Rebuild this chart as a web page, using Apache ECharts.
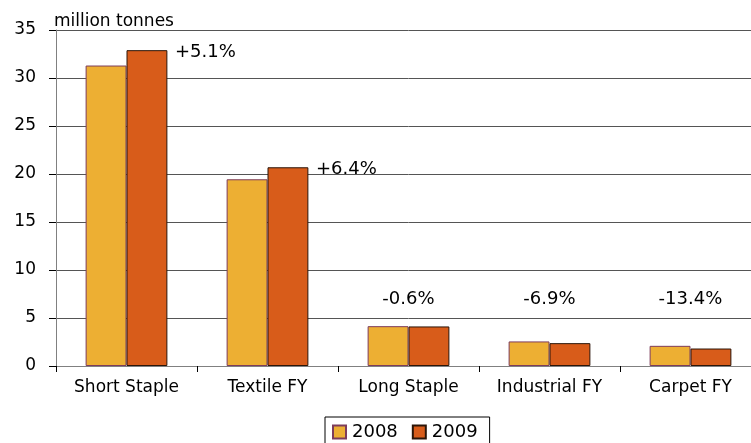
<!DOCTYPE html>
<html><head><meta charset="utf-8">
<script src="https://cdn.jsdelivr.net/npm/echarts@6/dist/echarts.min.js"></script>
<style>html,body{margin:0;padding:0;background:#fff;overflow:hidden}#c{width:761px;height:443px}</style>
</head><body><div id="c"></div>
<script>
const categories = ['Short Staple', 'Textile FY', 'Long Staple', 'Industrial FY', 'Carpet FY'];
const values2008 = [31.3, 19.45, 4.15, 2.56, 2.1];
const values2009 = [32.9, 20.7, 4.12, 2.38, 1.82];
const changeLabels = ['+5.1%', '+6.4%', '-0.6%', '-6.9%', '-13.4%'];
const seriesNames = ['2008', '2009'];
const yTicks = [0, 5, 10, 15, 20, 25, 30, 35];

const FONT = 'DejaVu Sans';
const chart = echarts.init(document.getElementById('c'), null, {renderer: 'canvas'});

// annotations: large categories get label to the right of 2009 bar top; small ones centred above the pair
const marks = categories.map((c, i) => {
  const big = values2009[i] > 10;
  return {
    coord: [c, big ? values2009[i] : 6.95],
    value: changeLabels[i],
    label: big
      ? {position: 'inside', align: 'left', verticalAlign: 'middle', offset: [28, 2]}
      : {position: 'inside', align: 'center', verticalAlign: 'middle', offset: [-20.5, 0]}
  };
});

chart.setOption({
  animation: false,
  backgroundColor: '#fff',
  grid: {left: 56, top: 30, right: 0, bottom: 77, containLabel: false},
  title: {
    text: 'million tonnes', left: 49, top: 8,
    textStyle: {fontFamily: FONT, fontSize: 17, fontWeight: 'normal', color: '#000'}
  },
  legend: {
    data: seriesNames,
    left: 325, top: 417,
    orient: 'horizontal',
    padding: [6, 12, 8, 7],
    itemWidth: 13, itemHeight: 13, itemGap: 14,
    borderColor: '#000', borderWidth: 1,
    icon: 'rect',
    textStyle: {fontFamily: FONT, fontSize: 18, color: '#000', padding: [0, 0, 0, 1]}
  },
  xAxis: {
    type: 'category',
    data: categories,
    axisLine: {lineStyle: {color: '#808080', width: 1}},
    axisTick: {show: true, length: 6, lineStyle: {color: '#000'}},
    axisLabel: {fontFamily: FONT, fontSize: 17, color: '#000', margin: 13}
  },
  yAxis: {
    type: 'value',
    min: 0, max: yTicks[yTicks.length - 1], interval: yTicks[1] - yTicks[0],
    axisLine: {show: true, lineStyle: {color: '#808080', width: 1}},
    axisTick: {show: true, length: 7, inside: false, lineStyle: {color: '#000'}},
    axisLabel: {fontFamily: FONT, fontSize: 17, color: '#000', margin: 20},
    splitLine: {lineStyle: {color: '#555', width: 1}}
  },
  series: [
    {
      name: seriesNames[0], type: 'bar', data: values2008,
      barGap: '0%', barCategoryGap: '42%',
      itemStyle: {color: '#EDAF33', borderColor: '#7d3c5c', borderWidth: 1}
    },
    {
      name: seriesNames[1], type: 'bar', data: values2009,
      barGap: '0%', barCategoryGap: '42%',
      itemStyle: {color: '#D85C1A', borderColor: '#2b1508', borderWidth: 1},
      markPoint: {
        symbol: 'circle', symbolSize: 0,
        silent: true,
        label: {show: true, formatter: p => p.value, fontFamily: FONT, fontSize: 18, color: '#000'},
        data: marks
      }
    }
  ]
});
</script></body></html>
